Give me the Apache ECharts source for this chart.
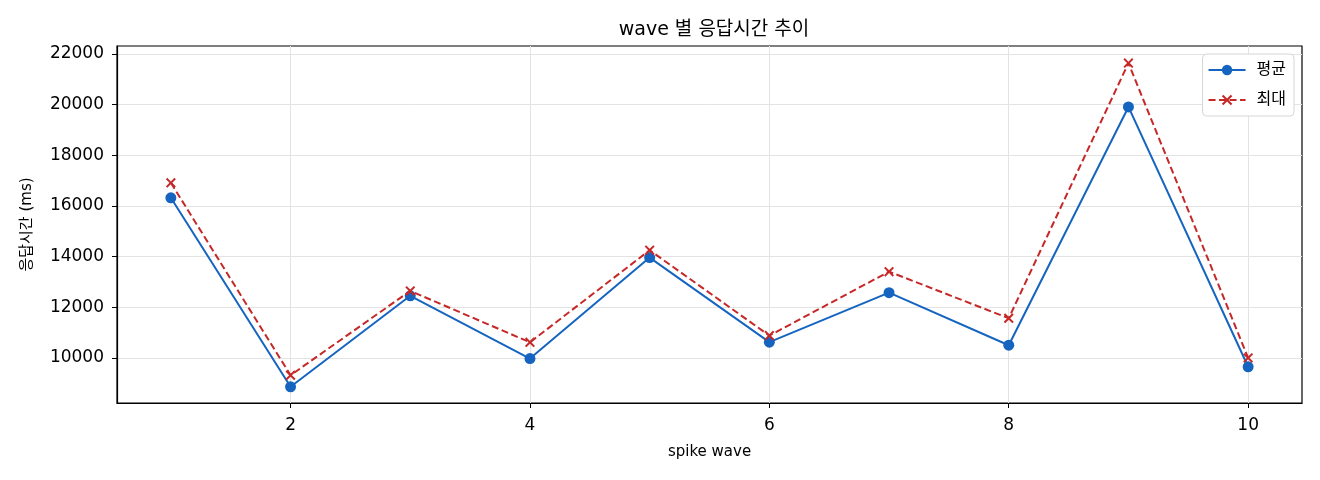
<!DOCTYPE html>
<html><head><meta charset="utf-8">
<script src="https://cdn.jsdelivr.net/npm/echarts@6/dist/echarts.min.js"></script>
<style>html,body{margin:0;padding:0;background:#fff}#c{width:1320px;height:480px}</style>
</head><body><div id="c"></div>
<script>
const waves = [1,2,3,4,5,6,7,8,9,10];
const avgValues = [16320, 8860, 12450, 9975, 13960, 10620, 12575, 10500, 19905, 9650];
const maxValues = [16910, 9315, 12645, 10615, 14250, 10880, 13405, 11565, 21635, 10000];
const xTicks = [2,4,6,8,10];
const yTicks = [10000,12000,14000,16000,18000,20000,22000];

const FONT = '"DejaVu Sans", "Noto Sans CJK KR", sans-serif';
const crossPath = 'path://M0,1.4L1.4,0L5,3.6L8.6,0L10,1.4L6.4,5L10,8.6L8.6,10L5,6.4L1.4,10L0,8.6L3.6,5Z';

const chart = echarts.init(document.getElementById('c'));
chart.setOption({
  animation: false,
  textStyle: {fontFamily: FONT},
  title: {
    text: 'wave 별 응답시간 추이', left: 709, top: 16, textAlign: 'center',
    textStyle: {fontFamily: FONT, fontSize: 19, fontWeight: 'normal', color: '#000'}
  },
  legend: {
    orient: 'vertical', right: 26, top: 54, align: 'left',
    itemWidth: 37, itemHeight: 13, itemGap: 14,
    padding: [8, 8, 8, 5],
    borderColor: '#d6d6d6', borderWidth: 1, borderRadius: 4, backgroundColor: '#fff',
    textStyle: {fontFamily: FONT, fontSize: 16, color: '#000', padding: [0,0,0,6]},
    data: [
      {name: '평균', lineStyle: {width: 2}},
      {name: '최대', lineStyle: {width: 2}}
    ]
  },
  grid: {left: 117, right: 18, top: 46, bottom: 77, containLabel: false,
    show: true, borderColor: '#000', borderWidth: 1.2, backgroundColor: 'transparent'},
  xAxis: {
    type: 'value', min: 0.55, max: 10.45,
    name: 'spike wave', nameLocation: 'middle', nameGap: 42,
    nameTextStyle: {fontFamily: FONT, fontSize: 15, color: '#000'},
    axisLine: {show: true, onZero: false, lineStyle: {color: '#000', width: 1.2}},
    axisTick: {show: true, length: 5, customValues: xTicks, lineStyle: {color: '#000'}},
    axisLabel: {customValues: xTicks, margin: 14, fontFamily: FONT, fontSize: 17, color: '#000'},
    splitLine: {show: true, lineStyle: {color: '#e3e3e3', width: 1}}
  },
  yAxis: {
    type: 'value', min: 8220, max: 22310,
    name: '응답시간 (ms)', nameLocation: 'middle', nameGap: 82,
    nameTextStyle: {fontFamily: FONT, fontSize: 15, color: '#000'},
    axisLine: {show: true, onZero: false, lineStyle: {color: '#000', width: 1.2}},
    axisTick: {show: true, length: 5, customValues: yTicks, lineStyle: {color: '#000'}},
    axisLabel: {customValues: yTicks, margin: 13, fontFamily: FONT, fontSize: 17, color: '#000',
      formatter: v => String(v)},
    splitLine: {show: true, lineStyle: {color: '#e3e3e3', width: 1}}
  },
  series: [
    {
      name: '평균', type: 'line', data: waves.map((w,i)=>[w, avgValues[i]]),
      symbol: 'circle', symbolSize: 11,
      lineStyle: {color: '#1565c0', width: 2},
      itemStyle: {color: '#1565c0'}, z: 3
    },
    {
      name: '최대', type: 'line', data: waves.map((w,i)=>[w, maxValues[i]]),
      symbol: crossPath, symbolSize: 10,
      lineStyle: {color: '#c62828', width: 2, type: [7, 3.5]},
      itemStyle: {color: '#c62828'}, z: 4
    }
  ]
});
</script></body></html>
